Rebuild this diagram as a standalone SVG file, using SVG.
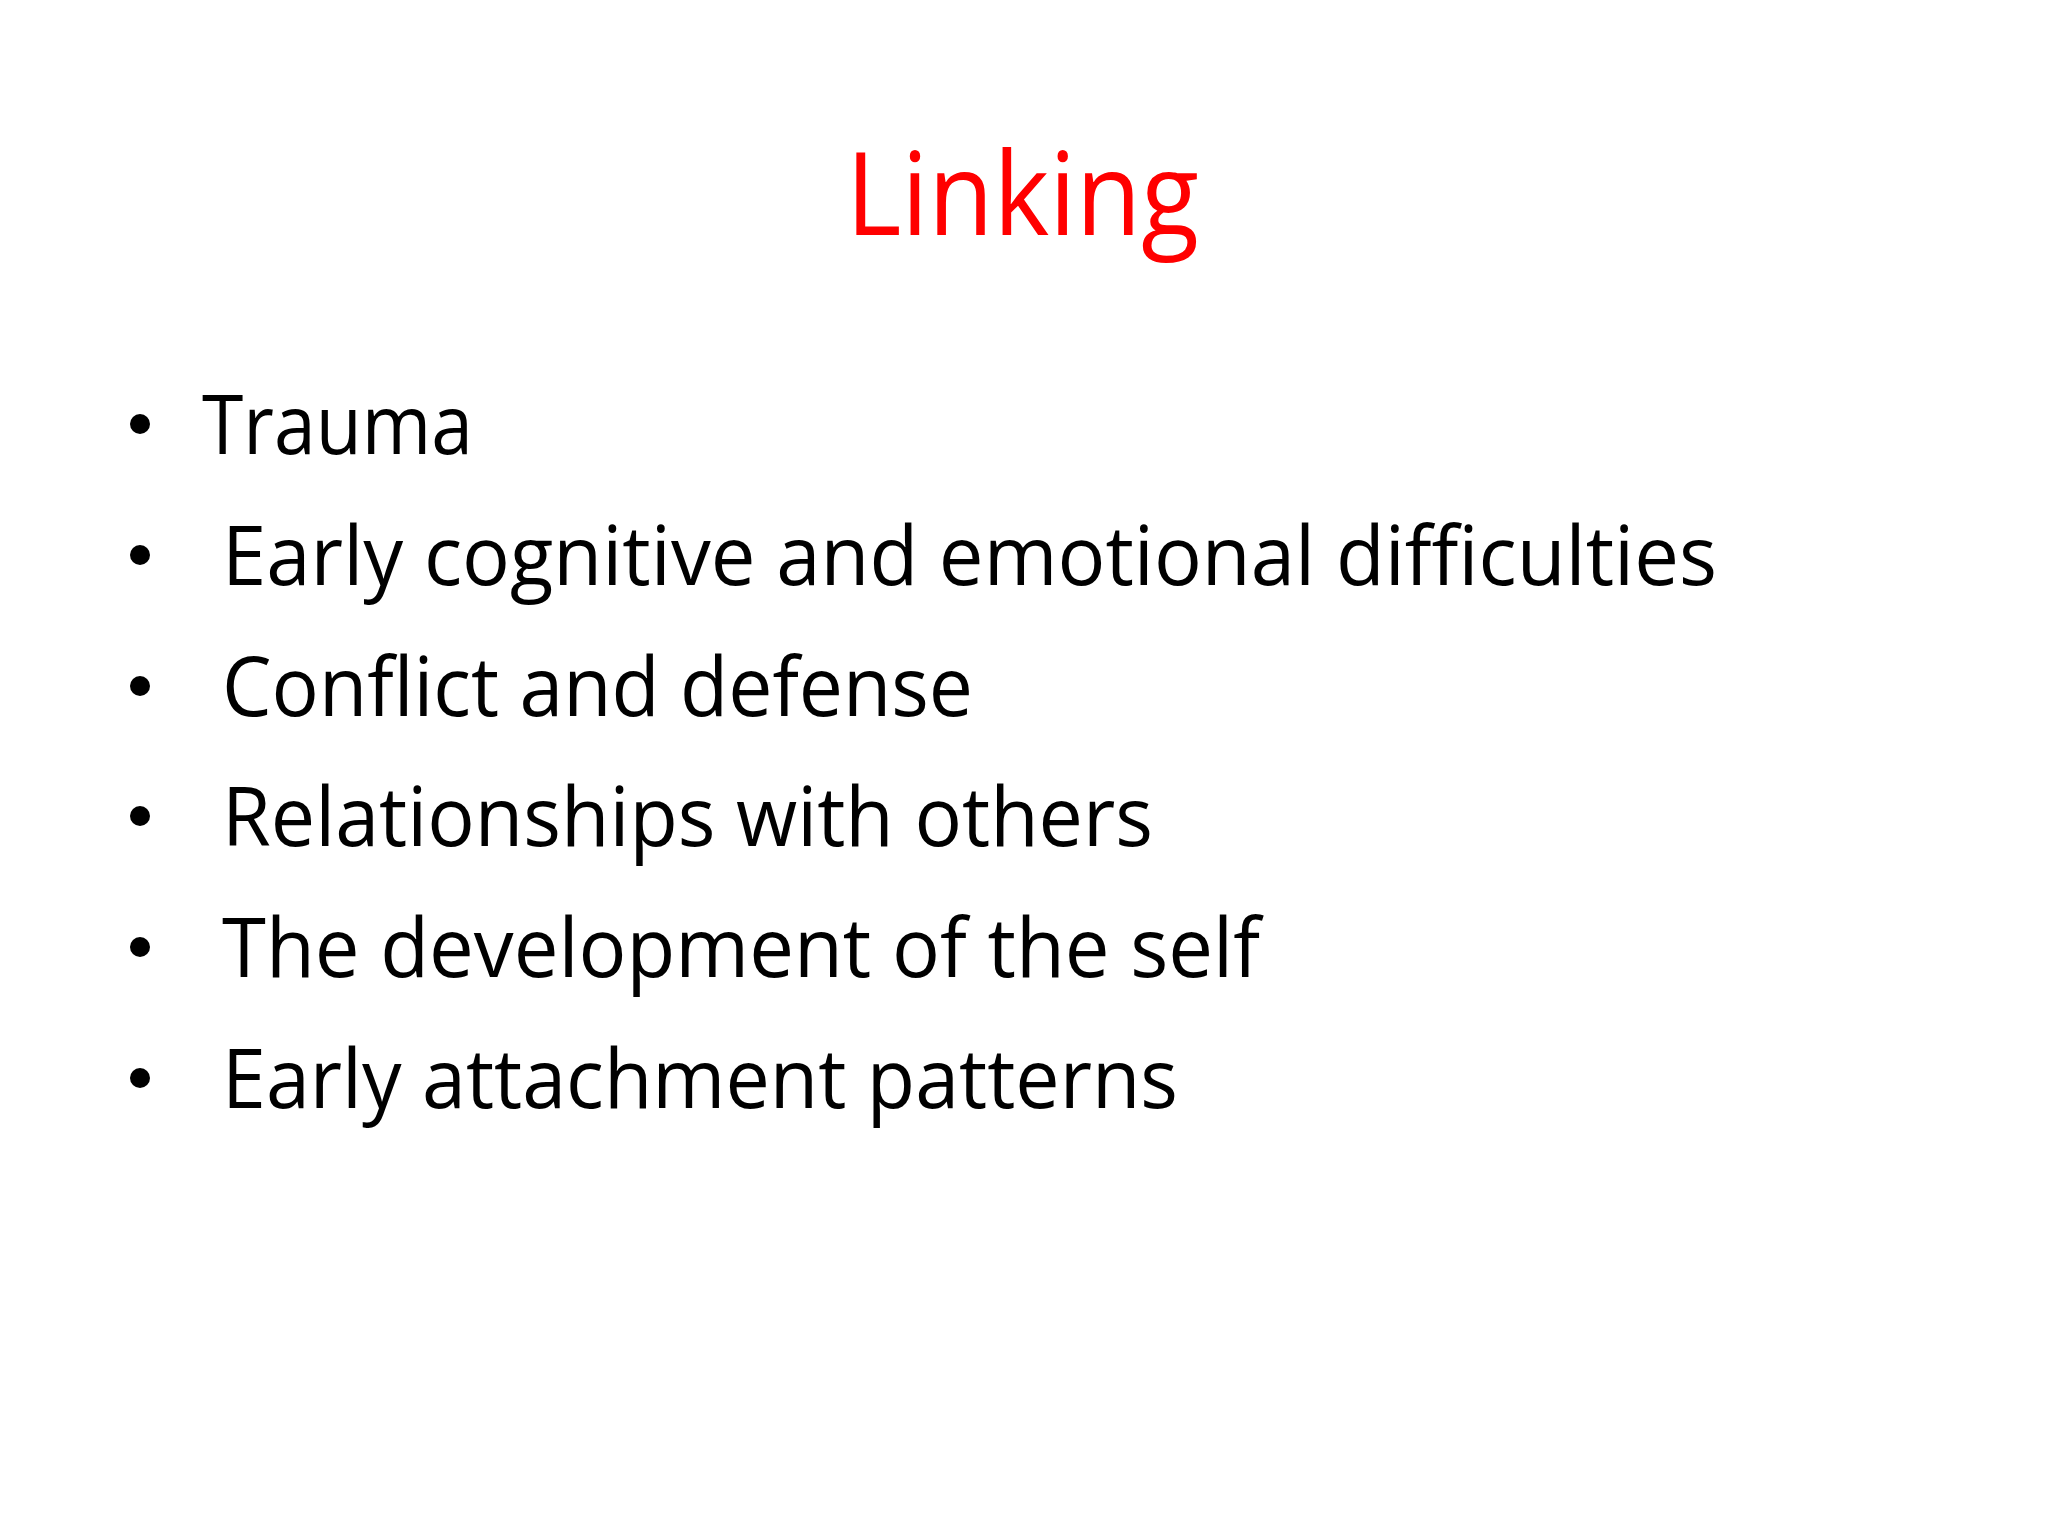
<svg xmlns="http://www.w3.org/2000/svg" width="2048" height="1536" viewBox="0 0 2048 1536">
<style>
.t{font-family:"Open Sans","Liberation Sans",sans-serif;font-size:82px;fill:#000}
.b{fill:#000}
</style>
<rect width="2048" height="1536" fill="#fff"/>
<g id="title"><text x="846" y="235" font-family="Open Sans, Liberation Sans, sans-serif" font-size="115" fill="#ff0000" textLength="353" lengthAdjust="spacingAndGlyphs">Linking</text></g>
<g id="bullets">
<circle class="b" cx="140" cy="424" r="10"/><text class="t" x="202" y="454" textLength="271" lengthAdjust="spacingAndGlyphs">Trauma</text>
<circle class="b" cx="140" cy="555" r="10"/><text class="t" x="222" y="585" textLength="1495" lengthAdjust="spacingAndGlyphs">Early cognitive and emotional difficulties</text>
<circle class="b" cx="140" cy="686" r="10"/><text class="t" x="222" y="716" textLength="751" lengthAdjust="spacingAndGlyphs">Conflict and defense</text>
<circle class="b" cx="140" cy="816" r="10"/><text class="t" x="222" y="846" textLength="931" lengthAdjust="spacingAndGlyphs">Relationships with others</text>
<circle class="b" cx="140" cy="947" r="10"/><text class="t" x="222" y="977" textLength="1038" lengthAdjust="spacingAndGlyphs">The development of the self</text>
<circle class="b" cx="140" cy="1078" r="10"/><text class="t" x="222" y="1108" textLength="956" lengthAdjust="spacingAndGlyphs">Early attachment patterns</text>
</g>
</svg>
